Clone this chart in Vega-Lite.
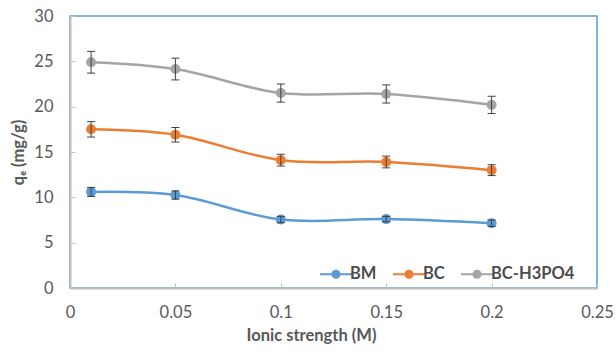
{
  "$schema": "https://vega.github.io/schema/vega-lite/v6.json",
  "width": 527,
  "height": 272,
  "autosize": "none",
  "padding": {"left": 70, "top": 16, "right": 19, "bottom": 68},
  "background": "white",
  "config": {
    "font": "Lato",
    "view": {"stroke": "#5B9BD5", "strokeWidth": 1.5},
    "axis": {
      "grid": false,
      "domainColor": "#BFBFBF",
      "domainWidth": 2,
      "tickColor": "#BFBFBF",
      "tickSize": -5,
      "tickWidth": 1,
      "labelFont": "Lato",
      "labelFontSize": 16.5,
      "labelColor": "#595959",
      "titleFont": "Lato",
      "titleFontSize": 16.5,
      "titleFontWeight": "bold",
      "titleColor": "#595959"
    }
  },
  "data": {
    "values": [
      {"x": 0.01, "y": 10.6, "e": 0.5, "s": "BM"},
      {"x": 0.05, "y": 10.25, "e": 0.45, "s": "BM"},
      {"x": 0.1, "y": 7.55, "e": 0.35, "s": "BM"},
      {"x": 0.15, "y": 7.6, "e": 0.3, "s": "BM"},
      {"x": 0.2, "y": 7.15, "e": 0.35, "s": "BM"},
      {"x": 0.01, "y": 17.5, "e": 0.85, "s": "BC"},
      {"x": 0.05, "y": 16.9, "e": 0.8, "s": "BC"},
      {"x": 0.1, "y": 14.1, "e": 0.65, "s": "BC"},
      {"x": 0.15, "y": 13.9, "e": 0.65, "s": "BC"},
      {"x": 0.2, "y": 13.0, "e": 0.6, "s": "BC"},
      {"x": 0.01, "y": 24.9, "e": 1.2, "s": "BC-H3PO4"},
      {"x": 0.05, "y": 24.15, "e": 1.2, "s": "BC-H3PO4"},
      {"x": 0.1, "y": 21.5, "e": 1.0, "s": "BC-H3PO4"},
      {"x": 0.15, "y": 21.4, "e": 1.0, "s": "BC-H3PO4"},
      {"x": 0.2, "y": 20.2, "e": 0.95, "s": "BC-H3PO4"}
    ]
  },
  "transform": [
    {"calculate": "datum.y - datum.e", "as": "lo"},
    {"calculate": "datum.y + datum.e", "as": "hi"}
  ],
  "encoding": {
    "x": {
      "field": "x", "type": "quantitative",
      "scale": {"domain": [0, 0.25], "nice": false},
      "axis": {"values": [0, 0.05, 0.1, 0.15, 0.2, 0.25], "format": "~g", "title": "Ionic strength (M)", "labelPadding": 21, "titlePadding": 7, "titleX": 241, "labelFlush": false}
    }
  },
  "layer": [
    {
      "mark": {"type": "line", "interpolate": "catmull-rom", "strokeWidth": 2.5},
      "encoding": {
        "y": {
          "field": "y", "type": "quantitative",
          "scale": {"domain": [0, 30]},
          "axis": {"values": [0, 5, 10, 15, 20, 25, 30], "title": "q\u2091 (mg/g)", "labelPadding": 22, "titlePadding": 7}
        },
        "color": {
          "field": "s", "type": "nominal",
          "scale": {"domain": ["BM", "BC", "BC-H3PO4"], "range": ["#5B9BD5", "#ED7D31", "#A5A5A5"]},
          "legend": {
            "orient": "none", "legendX": 257, "legendY": 249,
            "direction": "horizontal", "title": null,
            "symbolType": "M-2,0H-0.45A0.45,0.45 0 1 1 0.45,0A0.45,0.45 0 1 1 -0.45,0M0.45,0H2",
            "symbolSize": 256, "symbolStrokeWidth": 2,
            "labelFontSize": 16.5, "labelFontWeight": "bold", "labelColor": "#4d4d4d",
            "columnPadding": 12, "labelOffset": 5,
            "fillColor": "white",
            "encode": {"symbols": {"update": {"fill": {"scale": "color", "field": "value"}, "stroke": {"scale": "color", "field": "value"}, "opacity": {"value": 1}}}}
          }
        }
      }
    },
    {
      "mark": {"type": "point", "filled": true, "size": 100, "opacity": 1},
      "encoding": {
        "y": {"field": "y", "type": "quantitative"},
        "color": {"field": "s", "type": "nominal", "legend": null}
      }
    },
    {
      "mark": {"type": "rule", "color": "#404040", "strokeWidth": 1},
      "encoding": {
        "y": {"field": "lo", "type": "quantitative"},
        "y2": {"field": "hi"}
      }
    },
    {
      "mark": {"type": "point", "shape": "M-1,0H1", "size": 64, "stroke": "#404040", "strokeWidth": 1, "opacity": 1},
      "encoding": {"y": {"field": "lo", "type": "quantitative"}}
    },
    {
      "mark": {"type": "point", "shape": "M-1,0H1", "size": 64, "stroke": "#404040", "strokeWidth": 1, "opacity": 1},
      "encoding": {"y": {"field": "hi", "type": "quantitative"}}
    }
  ]
}
